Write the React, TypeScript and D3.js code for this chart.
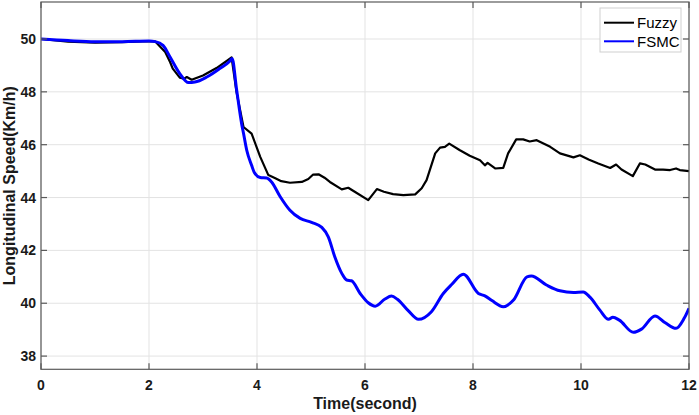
import React, { useEffect, useRef } from "react";
import * as d3 from "d3";

// Fuzzy controller response (time in s, speed in km/h)
const fuzzyTime = [
  0, 0.5, 1.0, 1.5, 2.0, 2.12, 2.3, 2.39, 2.44, 2.57, 2.65, 2.7, 2.79, 3.0, 3.25, 3.53, 3.62,
  3.75, 3.9, 4.06, 4.21, 4.33, 4.45, 4.61, 4.83, 4.95, 5.04, 5.14, 5.25, 5.35, 5.57, 5.69, 5.81,
  6.06, 6.22, 6.35, 6.52, 6.71, 6.93, 7.05, 7.14, 7.3, 7.39, 7.48, 7.56, 7.75, 7.94, 8.13, 8.22,
  8.27, 8.41, 8.56, 8.65, 8.8, 8.93, 9.05, 9.18, 9.43, 9.61, 9.86, 9.98, 10.14, 10.32, 10.54,
  10.65, 10.75, 10.96, 11.09, 11.19, 11.37, 11.52, 11.65, 11.76, 11.83, 12,
];
const fuzzySpeed = [
  50, 49.9, 49.86, 49.88, 49.92, 49.9, 49.51, 49.13, 48.88, 48.54, 48.5, 48.56, 48.46, 48.62,
  48.9, 49.3, 48.0, 46.67, 46.42, 45.54, 44.85, 44.74, 44.62, 44.56, 44.59, 44.7, 44.87, 44.88,
  44.75, 44.59, 44.31, 44.37, 44.22, 43.9, 44.32, 44.22, 44.13, 44.09, 44.12, 44.35, 44.66,
  45.67, 45.89, 45.92, 46.04, 45.8, 45.58, 45.41, 45.22, 45.31, 45.1, 45.12, 45.67, 46.2, 46.2,
  46.12, 46.17, 45.92, 45.67, 45.52, 45.6, 45.44, 45.29, 45.12, 45.25, 45.06, 44.81, 45.29,
  45.25, 45.06, 45.06, 45.04, 45.1, 45.04, 45.0,
];

// FSMC controller response
const fsmcTime = [
  0, 0.5, 1.0, 1.5, 2.0, 2.12, 2.26, 2.39, 2.57, 2.73, 2.85, 3.07, 3.31, 3.5, 3.54, 3.62, 3.72,
  3.75, 3.81, 3.9, 3.95, 4.06, 4.18, 4.27, 4.43, 4.61, 4.8, 5.01, 5.2, 5.32, 5.44, 5.57, 5.66,
  5.75, 5.91, 6.06, 6.19, 6.37, 6.49, 6.6, 6.8, 6.99, 7.23, 7.45, 7.6, 7.82, 8.1, 8.22, 8.35,
  8.56, 8.75, 9.0, 9.08, 9.36, 9.61, 9.86, 10.04, 10.17, 10.35, 10.51, 10.59, 10.71, 10.97,
  11.12, 11.37, 11.56, 11.76, 11.91, 12,
];
const fsmcSpeed = [
  50, 49.94, 49.9, 49.9, 49.92, 49.9, 49.76, 49.32, 48.69, 48.35, 48.37, 48.56, 48.88, 49.17,
  49.26, 48.12, 46.74, 46.43, 45.79, 45.22, 44.95, 44.76, 44.74, 44.59, 44.03, 43.52, 43.21,
  43.06, 42.87, 42.51, 41.76, 41.13, 40.88, 40.85, 40.37, 40.02, 39.89, 40.16, 40.27, 40.15,
  39.72, 39.39, 39.68, 40.37, 40.7, 41.1, 40.37, 40.28, 40.1, 39.87, 40.12, 41.0, 41.03, 40.69,
  40.47, 40.41, 40.43, 40.22, 39.74, 39.39, 39.47, 39.36, 38.9, 39.02, 39.52, 39.26, 39.05,
  39.43, 39.81,
];

const xTicks = [0, 2, 4, 6, 8, 10, 12];
const yTicks = [38, 40, 42, 44, 46, 48, 50];
const seriesNames = ["Fuzzy", "FSMC"];
const seriesColors = ["#000000", "#0000ff"];

const W = 699;
const H = 415;
const FONT = "'Liberation Sans', Arial, Helvetica, sans-serif";

export default function App() {
  const ref = useRef<SVGSVGElement | null>(null);

  useEffect(() => {
    const svg = d3.select(ref.current);
    svg.selectAll("*").remove();

    const left = 41, right = 689, top = 2, bottom = 369.3;
    const x = d3.scaleLinear().domain([0, 12]).range([left, right]);
    const y = d3.scaleLinear().domain([37.5, 51.4]).range([bottom, top]);

    svg.append("rect").attr("width", W).attr("height", H).attr("fill", "#fff");

    // grid
    const grid = svg.append("g").attr("stroke", "#e3e3e3").attr("stroke-width", 1);
    grid
      .selectAll("line.gx")
      .data(xTicks)
      .join("line")
      .attr("x1", d => x(d))
      .attr("x2", d => x(d))
      .attr("y1", top)
      .attr("y2", bottom);
    grid
      .selectAll("line.gy")
      .data(yTicks)
      .join("line")
      .attr("class", "gy")
      .attr("x1", left)
      .attr("x2", right)
      .attr("y1", d => y(d))
      .attr("y2", d => y(d));

    svg
      .append("clipPath")
      .attr("id", "plotclip")
      .append("rect")
      .attr("x", left)
      .attr("y", top)
      .attr("width", right - left)
      .attr("height", bottom - top);

    const line = d3
      .line<[number, number]>()
      .x(d => x(d[0]))
      .y(d => y(d[1]));

    const fuzzy = fuzzyTime.map((t, i) => [t, fuzzySpeed[i]] as [number, number]);
    const fsmc = fsmcTime.map((t, i) => [t, fsmcSpeed[i]] as [number, number]);

    const plot = svg.append("g").attr("clip-path", "url(#plotclip)");
    plot
      .append("path")
      .attr("d", line.curve(d3.curveLinear)(fuzzy))
      .attr("fill", "none")
      .attr("stroke", seriesColors[0])
      .attr("stroke-width", 2.2)
      .attr("stroke-linejoin", "round");
    plot
      .append("path")
      .attr("d", line.curve(d3.curveMonotoneX)(fsmc))
      .attr("fill", "none")
      .attr("stroke", seriesColors[1])
      .attr("stroke-width", 3)
      .attr("stroke-linejoin", "round");

    // axes box with inward ticks
    const axisColor = "#5a5a5a";
    svg
      .append("rect")
      .attr("x", left)
      .attr("y", top)
      .attr("width", right - left)
      .attr("height", bottom - top)
      .attr("fill", "none")
      .attr("stroke", axisColor)
      .attr("stroke-width", 1.2);

    const tl = 6;
    const ticks = svg.append("g").attr("stroke", axisColor).attr("stroke-width", 1.2);
    xTicks.forEach(t => {
      ticks.append("line").attr("x1", x(t)).attr("x2", x(t)).attr("y1", bottom).attr("y2", bottom - tl);
      ticks.append("line").attr("x1", x(t)).attr("x2", x(t)).attr("y1", top).attr("y2", top + tl);
    });
    yTicks.forEach(t => {
      ticks.append("line").attr("x1", left).attr("x2", left + tl).attr("y1", y(t)).attr("y2", y(t));
      ticks.append("line").attr("x1", right).attr("x2", right - tl).attr("y1", y(t)).attr("y2", y(t));
    });

    const labels = svg
      .append("g")
      .attr("font-family", FONT)
      .attr("font-weight", "bold")
      .attr("font-size", 14)
      .attr("fill", "#1a1a1a");
    labels
      .selectAll("text.xt")
      .data(xTicks)
      .join("text")
      .attr("x", d => x(d))
      .attr("y", 390)
      .attr("text-anchor", "middle")
      .text(d => d);
    labels
      .selectAll("text.yt")
      .data(yTicks)
      .enter()
      .append("text")
      .attr("x", 36)
      .attr("y", d => y(d))
      .attr("dy", "0.36em")
      .attr("text-anchor", "end")
      .text(d => d);

    svg
      .append("text")
      .attr("x", (left + right) / 2)
      .attr("y", 409)
      .attr("text-anchor", "middle")
      .attr("font-family", FONT)
      .attr("font-weight", "bold")
      .attr("font-size", 16)
      .attr("fill", "#1a1a1a")
      .text("Time(second)");

    svg
      .append("text")
      .attr("transform", `translate(15,${(top + bottom) / 2}) rotate(-90)`)
      .attr("text-anchor", "middle")
      .attr("font-family", FONT)
      .attr("font-weight", "bold")
      .attr("font-size", 16)
      .attr("fill", "#1a1a1a")
      .text("Longitudinal Speed(Km/h)");

    // legend
    const lg = svg.append("g");
    lg.append("rect")
      .attr("x", 600)
      .attr("y", 8)
      .attr("width", 81)
      .attr("height", 44)
      .attr("fill", "#fff")
      .attr("stroke", "#cfcfcf")
      .attr("stroke-width", 1);
    seriesNames.forEach((name, i) => {
      const yy = 22.7 + i * 18.6;
      lg.append("line")
        .attr("x1", 604)
        .attr("x2", 634)
        .attr("y1", yy)
        .attr("y2", yy)
        .attr("stroke", seriesColors[i])
        .attr("stroke-width", 2);
      lg.append("text")
        .attr("x", 637)
        .attr("y", yy)
        .attr("dy", "0.36em")
        .attr("font-family", FONT)
        .attr("font-size", 15)
        .attr("fill", "#000")
        .text(name);
    });
  }, []);

  return (
    <svg
      ref={ref}
      width={W}
      height={H}
      style={{ position: "absolute", left: 0, top: 0, display: "block" }}
    />
  );
}
